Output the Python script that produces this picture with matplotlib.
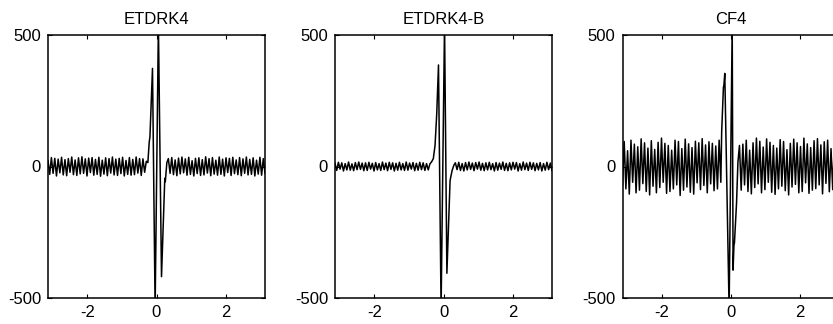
import numpy as np
import matplotlib
matplotlib.use('Agg')
import matplotlib.pyplot as plt

plt.rcParams['font.family'] = 'Liberation Sans'
plt.rcParams['axes.unicode_minus'] = False

titles = ['ETDRK4', 'ETDRK4-B', 'CF4']

# sampling grid of the oscillating flanks (128 intervals on [-pi, pi])
x_grid = np.linspace(-np.pi, np.pi, 129)
x_left = x_grid[:59]
x_right = x_grid[71:]

# ETDRK4
etdrk4_left = [22, -30, 34, -26, 31, -36, 28, -24, 35, -32,
               26, -35, 30, -22, 36, -31, 25, -34, 33, -28,
               37, -26, 29, -36, 32, -23, 34, -33, 27, -30,
               35, -37, 24, -29, 33, -35, 30, -25, 36, -32,
               28, -34, 31, -27, 35, -36, 23, -30, 34, -33,
               27, -31, 36, -25, 30, -34, 29, -22, 20]
etdrk4_mid_x = [-0.25, -0.21, -0.19, -0.116, -0.04, 0.055, 0.145, 0.24, 0.255, 0.30]
etdrk4_mid_y = [15, 94, 112, 373, -540, 540, -419, -45, -58, 15]
etdrk4_right = [30, -26, 34, -31, 25, -35, 32, -28, 36, -24,
                29, -33, 35, -30, 22, -36, 31, -27, 33, -34,
                26, -32, 37, -25, 30, -35, 34, -29, 24, -33,
                36, -30, 28, -36, 33, -23, 31, -34, 35, -27,
                25, -31, 34, -35, 29, -26, 36, -32, 27, -30,
                33, -36, 24, -29, 35, -33, 30, -25]

# ETDRK4-B
etdrk4b_left = [12, -15, 16, -10, 14, -17, 11, -13, 17, -14,
                10, -16, 15, -12, 17, -11, 13, -16, 14, -15,
                16, -10, 12, -17, 15, -13, 11, -15, 17, -12,
                13, -16, 16, -11, 14, -17, 12, -14, 16, -13,
                11, -15, 17, -14, 13, -10, 15, -16, 12, -14,
                16, -12, 14, -15, 11, -13, 10, 18, 30]
etdrk4b_mid_x = [-0.245, -0.196, -0.145, -0.07, 0.03, 0.098, 0.19, 0.21, 0.25, 0.30]
etdrk4b_mid_y = [80, 200, 386, -540, 540, -406, -55, -40, -15, 5]
etdrk4b_right = [14, -12, 16, -15, 11, -17, 15, -13, 17, -11,
                 13, -16, 15, -10, 17, -14, 12, -16, 14, -13,
                 16, -12, 11, -17, 15, -14, 13, -11, 17, -15,
                 12, -16, 14, -13, 16, -10, 15, -17, 11, -14,
                 17, -12, 13, -15, 16, -11, 14, -16, 12, -13,
                 15, -17, 11, -14, 16, -12, 13, -15]

# CF4
cf4_left = [-70, 95, -85, 60, -105, 100, -60, 85, -100, 75,
            -90, 105, -65, 90, -95, 70, -108, 98, -75, 65,
            -100, 92, -80, 108, -60, 88, -102, 80, -95, 62,
            -85, 100, -70, 95, -110, 68, -90, 104, -78, 86,
            -98, 72, -105, 96, -62, 90, -88, 106, -72, 82,
            -100, 94, -66, 88, -92, 78, -85, 100, -60]
cf4_mid_x = [-0.27, -0.22, -0.205, -0.18, -0.055, 0.035, 0.06, 0.085, 0.10, 0.16, 0.20, 0.245, 0.295]
cf4_mid_y = [132, 300, 310, 354, -540, 540, -394, -300, -290, -140, 15, 80, -90]
cf4_right = [85, -70, 100, -95, 62, -104, 90, -80, 108, -66,
             96, -100, 74, -88, 105, -60, 92, -98, 80, -106,
             70, -85, 102, -75, 95, -92, 64, -108, 88, -78,
             104, -68, 90, -100, 76, -95, 108, -62, 86, -102,
             72, -90, 98, -84, 106, -70, 82, -104, 94, -64,
             100, -96, 68, -88, 104, -78, 92, -100]

panels = [
    (etdrk4_left, etdrk4_mid_x, etdrk4_mid_y, etdrk4_right),
    (etdrk4b_left, etdrk4b_mid_x, etdrk4b_mid_y, etdrk4b_right),
    (cf4_left, cf4_mid_x, cf4_mid_y, cf4_right),
]

W, H = 833, 324
fig = plt.figure(figsize=(W / 100, H / 100), dpi=100)

# axes boxes in pixels (the third one runs past the right edge of the image)
lefts = [48, 335, 622.5]
for k in range(3):
    left, mid_x, mid_y, right = panels[k]
    ax = fig.add_axes([lefts[k] / W, 26 / H, 217 / W, 263 / H])
    x = np.concatenate([x_left, mid_x, x_right])
    y = np.concatenate([left, mid_y, right])
    ax.plot(x, y, color='black', lw=1.1)
    ax.set_xlim(-np.pi, np.pi)
    ax.set_ylim(-500, 500)
    ax.set_xticks([-2, 0, 2])
    ax.set_yticks([-500, 0, 500])
    ax.tick_params(direction='in', top=True, right=True, length=3,
                   width=0.8, labelsize=12)
    ax.tick_params(axis='y', pad=5)
    ax.tick_params(axis='x', pad=5)
    for s in ax.spines.values():
        s.set_linewidth(1.1)
    ax.set_title(titles[k], fontsize=12, pad=8)

fig.savefig('out.png', dpi=100)
